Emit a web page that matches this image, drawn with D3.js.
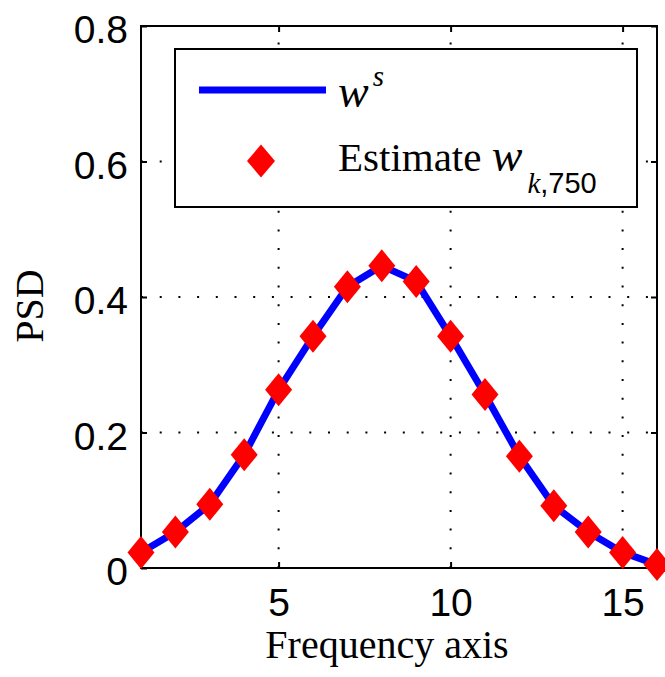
<!DOCTYPE html>
<html>
<head>
<meta charset="utf-8">
<script src="https://cdn.jsdelivr.net/npm/d3@7"></script>
<style>
  body { margin: 0; background: #fff; }
  svg { display: block; }
</style>
</head>
<body>
<svg id="chart" width="665" height="677"></svg>
<script>
// frequency bins and PSD values
const freqBins = [1, 2, 3, 4, 5, 6, 7, 8, 9, 10, 11, 12, 13, 14, 15, 16];
const psdTrue = [0.023, 0.053, 0.094, 0.167, 0.263, 0.342, 0.415, 0.446, 0.423, 0.342, 0.256, 0.165, 0.092, 0.053, 0.023, 0.005];
const psdEstimate = [0.023, 0.053, 0.094, 0.167, 0.263, 0.342, 0.415, 0.446, 0.423, 0.342, 0.256, 0.165, 0.092, 0.053, 0.023, 0.005];
const xTicks = [5, 10, 15];
const yTicks = [0, 0.2, 0.4, 0.6, 0.8];
const xLabel = "Frequency axis";
const yLabel = "PSD";

let plot = { "left": 141, "right": 657, "top": 26, "bottom": 568 };
let sansFont = "'Liberation Sans', Arial, Helvetica, sans-serif";
let serifFont = "'Liberation Serif', 'Times New Roman', serif";

let svg = d3.select("#chart");

let x = d3.scaleLinear().domain([1, 16]).range([plot.left, plot.right]);
let y = d3.scaleLinear().domain([0, 0.8]).range([plot.bottom, plot.top]);

// dotted grid
for (let t of xTicks) {
  svg.append("line")
    .attr("x1", x(t)).attr("x2", x(t))
    .attr("y1", plot.bottom).attr("y2", plot.top)
    .style("stroke", "black")
    .style("stroke-width", 2)
    .style("stroke-dasharray", "2,16.7");
}
for (let t of yTicks.slice(1, -1)) {
  svg.append("line")
    .attr("x1", plot.left).attr("x2", plot.right)
    .attr("y1", y(t)).attr("y2", y(t))
    .style("stroke", "black")
    .style("stroke-width", 2)
    .style("stroke-dasharray", "2,16.7");
}

// axes (ticks point inward, box on all four sides)
let bottomAxis = svg.append("g")
  .attr("transform", "translate(0," + plot.bottom + ")")
  .call(d3.axisBottom(x).tickValues(xTicks).tickSizeInner(-6).tickSizeOuter(0).tickPadding(20));
let leftAxis = svg.append("g")
  .attr("transform", "translate(" + plot.left + ",0)")
  .call(d3.axisLeft(y).tickValues(yTicks).tickSizeInner(-6).tickSizeOuter(0).tickPadding(13)
    .tickFormat(d => d === 0 ? "0" : d3.format(".1f")(d)));
let topAxis = svg.append("g")
  .attr("transform", "translate(0," + plot.top + ")")
  .call(d3.axisTop(x).tickValues(xTicks).tickSizeInner(-6).tickSizeOuter(0).tickFormat(""));
let rightAxis = svg.append("g")
  .attr("transform", "translate(" + plot.right + ",0)")
  .call(d3.axisRight(y).tickValues(yTicks).tickSizeInner(-6).tickSizeOuter(0).tickFormat(""));

for (let g of [bottomAxis, leftAxis, topAxis, rightAxis]) {
  g.select(".domain").remove();
  g.selectAll(".tick line").style("stroke", "black").style("stroke-width", 2);
  g.selectAll("text")
    .style("font-family", sansFont)
    .style("font-size", "39px")
    .style("fill", "black");
}
leftAxis.selectAll("text").attr("dy", "0.43em");

// frame
svg.append("rect")
  .attr("x", plot.left)
  .attr("y", plot.top)
  .attr("width", plot.right - plot.left)
  .attr("height", plot.bottom - plot.top)
  .style("fill", "none")
  .style("stroke", "black")
  .style("stroke-width", 2);

// true PSD line
let line = d3.line()
  .x((d, i) => x(freqBins[i]))
  .y(d => y(d));
svg.append("path")
  .attr("d", line(psdTrue))
  .style("fill", "none")
  .style("stroke", "#0000ff")
  .style("stroke-width", 7)
  .style("stroke-linejoin", "round");

// estimate diamonds
let diamond = "M0,-16.5L13.5,0L0,16.5L-13.5,0Z";
svg.selectAll(".est")
  .data(psdEstimate)
  .enter()
  .append("path")
  .attr("class", "est")
  .attr("transform", (d, i) => "translate(" + x(freqBins[i]) + "," + y(d) + ")")
  .attr("d", diamond)
  .style("fill", "#ff0000");

// axis labels
svg.append("text")
  .attr("x", 387)
  .attr("y", 658)
  .text(xLabel)
  .style("text-anchor", "middle")
  .style("font-family", serifFont)
  .style("font-size", "40px");
svg.append("text")
  .attr("transform", "translate(43,306)rotate(-90)")
  .text(yLabel)
  .style("text-anchor", "middle")
  .style("font-family", serifFont)
  .style("font-size", "40px");

// legend
let legend = svg.append("g");
legend.append("rect")
  .attr("x", 175)
  .attr("y", 49)
  .attr("width", 462)
  .attr("height", 158)
  .style("fill", "white")
  .style("stroke", "black")
  .style("stroke-width", 2);
legend.append("line")
  .attr("x1", 199).attr("x2", 326)
  .attr("y1", 90).attr("y2", 90)
  .style("stroke", "#0000ff")
  .style("stroke-width", 7);
legend.append("path")
  .attr("transform", "translate(261,161)")
  .attr("d", "M0,-16.5L14,0L0,16.5L-14,0Z")
  .style("fill", "#ff0000");

let firstEntry = legend.append("text")
  .attr("x", 338)
  .attr("y", 107)
  .style("font-family", serifFont)
  .style("font-size", "41px");
firstEntry.append("tspan").text("w").style("font-style", "italic").style("font-size", "46px");
firstEntry.append("tspan")
  .attr("dx", 4)
  .attr("dy", -21)
  .text("s")
  .style("font-style", "italic")
  .style("font-size", "29px");

let secondEntry = legend.append("text")
  .attr("x", 338)
  .attr("y", 171)
  .style("font-family", serifFont)
  .style("font-size", "41px");
secondEntry.append("tspan").text("Estimate ");
secondEntry.append("tspan").text("w").style("font-style", "italic").style("font-size", "46px");
secondEntry.append("tspan")
  .attr("dx", 5)
  .attr("dy", 22)
  .text("k")
  .style("font-style", "italic")
  .style("font-size", "29px");
secondEntry.append("tspan")
  .text(",750")
  .style("font-family", sansFont)
  .style("font-size", "29px");
</script>
</body>
</html>
